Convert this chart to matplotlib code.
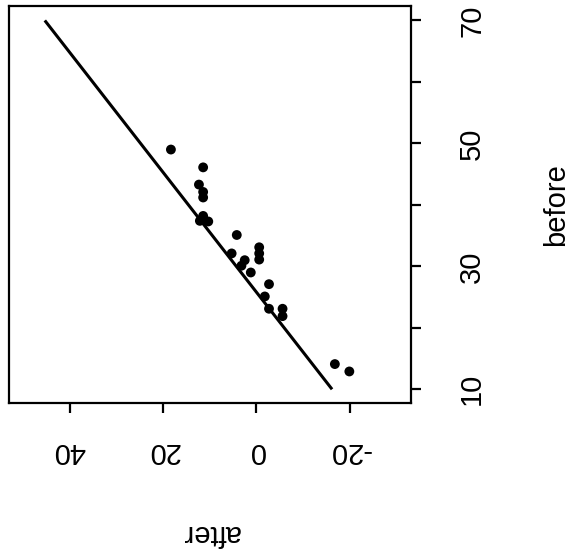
import numpy as np
import matplotlib
matplotlib.use("Agg")
import matplotlib.pyplot as plt

plt.rcParams['font.family'] = ['Liberation Sans', 'DejaVu Sans']

# data: after (horizontal, reversed) vs before (vertical)
after = [18.3, 11.4, 12.3, 11.4, 11.4, 11.4, 12.1, 10.3, 4.2, 5.3, 2.5,
         -0.6, -0.6, -0.6, 3.2, 1.2, -2.7, -1.8, -2.7, -5.6, -5.6, -16.8, -19.9]
before = [49.0, 46.1, 43.3, 42.1, 41.2, 38.2, 37.4, 37.3, 35.1, 32.1, 31.0,
          33.1, 32.1, 31.1, 30.1, 29.0, 27.1, 25.1, 23.1, 23.1, 21.9, 14.1, 12.9]

# fitted line: after = intercept + slope * before
line_intercept = -26.45
line_slope = 1.025
line_before = np.array([10, 70])

after_ticks = [40, 20, 0, -20]
after_labels = ['40', '20', '0', '-20']
before_ticks = [10, 20, 30, 40, 50, 60, 70]
before_labels = ['10', '', '30', '', '50', '', '70']

W, H = 572, 554
fig = plt.figure(figsize=(W / 100, H / 100), dpi=100)
L, R, T, B = 9.3, 411, 6, 403.3
ax = fig.add_axes([L / W, 1 - B / H, (R - L) / W, (B - T) / H])

ax.scatter(after, before, s=50, c='black', edgecolors='none', zorder=3)
ax.plot(line_intercept + line_slope * line_before, line_before,
        color='black', lw=2.2, solid_capstyle='butt')

ax.set_xlim(52.9, -33.1)
ax.set_ylim(7.72, 72.35)

for s in ax.spines.values():
    s.set_linewidth(1.6)

ax.yaxis.tick_right()
ax.xaxis.tick_bottom()
ax.set_xticks(after_ticks)
ax.set_xticklabels(after_labels, rotation=180, fontsize=21)
ax.set_yticks(before_ticks)
ax.set_yticklabels(before_labels, rotation=90, fontsize=21, va='center')
ax.tick_params(axis='x', length=7, width=1.6, pad=17)
ax.tick_params(axis='y', length=7, width=1.6, pad=27)

ax.set_xlabel('after', rotation=180, fontsize=21, labelpad=39)
ax.yaxis.set_label_position('right')
ax.set_ylabel('before', rotation=90, fontsize=21, labelpad=40)

fig.savefig('out.png', dpi=100, facecolor='white')
